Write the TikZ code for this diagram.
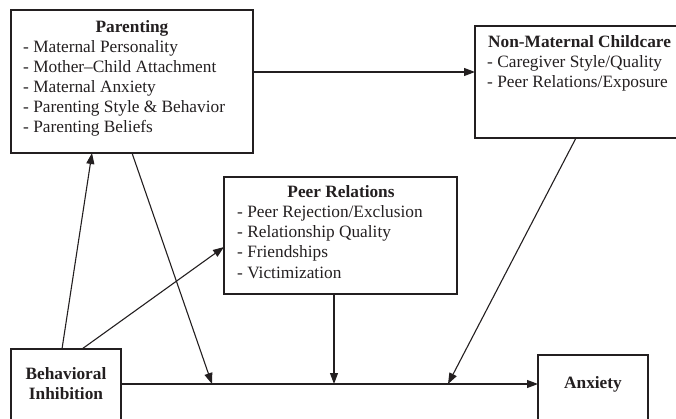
\documentclass[tikz,border=0pt]{standalone}
\usepackage{fontspec}
\setmainfont{Liberation Serif}
\usetikzlibrary{arrows.meta,calc}
\definecolor{ink}{HTML}{231F20}
\begin{document}
\begin{tikzpicture}[x=1pt,y=-1pt,
  box/.style={draw=ink, line width=1.3pt, rectangle, anchor=north west, inner sep=0pt, outer sep=0pt},
  ttl/.style={text=ink, font=\bfseries\fontsize{17.3}{20}\selectfont, anchor=base, inner sep=0pt},
  ttlw/.style={text=ink, font=\bfseries\fontsize{17.3}{20}\selectfont, anchor=base west, inner sep=0pt},
  itm/.style={text=ink, font=\fontsize{17.3}{20}\selectfont, anchor=base west, inner sep=0pt},
  arr/.style={draw=ink, line width=1.1pt, -{Triangle[length=11pt,width=8pt]}}]
\useasboundingbox (0,0) rectangle (676,419);
\clip (0,0) rectangle (676,419);
% boxes
\node[box, minimum width=242pt, minimum height=143pt] (par) at (11,10) {};
\node[box, minimum width=211pt, minimum height=112pt] (nm) at (475,26) {};
\node[box, minimum width=233pt, minimum height=117pt] (peer) at (224,177) {};
\node[box, minimum width=110pt, minimum height=91pt] (bi) at (11,349) {};
\node[box, minimum width=110pt, minimum height=85pt] (anx) at (538,355) {};
% Parenting text
\node[ttl] (parT) at (132,33) {Parenting};
\foreach \t [count=\i] in {Maternal Personality,Mother--Child Attachment,Maternal Anxiety,Parenting Style \& Behavior,Parenting Beliefs}
  \node[itm] (parI\i) at (23,33+20*\i) {- \t};
% Non-Maternal text
\node[ttlw] (nmT) at (488,48) {Non-Maternal Childcare};
\node[itm] (nmI1) at (487,68) {- Caregiver Style/Quality};
\node[itm] (nmI2) at (487,88) {- Peer Relations/Exposure};
% Peer text
\node[ttl] (peerT) at (341,198) {Peer Relations};
\foreach \t [count=\i] in {Peer Rejection/Exclusion,Relationship Quality,Friendships,Victimization}
  \node[itm] (peerI\i) at (237,198+20*\i) {- \t};
% BI text
\node[ttl] (biT1) at (66,379) {Behavioral};
\node[ttl] (biT2) at (66,399) {Inhibition};
% Anxiety text
\node[ttl] (anxT) at (593,388) {Anxiety};
% junctions on main line
\coordinate (j1) at (212,384);
\coordinate (j2) at (334,384);
\coordinate (j3) at (448,384);
% arrows
\draw[arr] ($(bi.north west)+(51,0)$) -- ($(par.south west)+(81,0)$);
\draw[arr] ($(bi.north west)+(71,0)$) -- ($(peer.north west)+(0,70)$);
\draw[arr] ($(par.south west)+(121,0)$) -- (j1);
\draw[arr] (par.east |- 0,72) -- (nm.west |- 0,72);
\draw[arr] (peer.south -| j2) -- (j2);
\draw[arr] ($(nm.south west)+(101,0)$) -- (j3);
\draw[arr] (bi.east |- j1) -- (anx.west |- j1);
\end{tikzpicture}
\end{document}
